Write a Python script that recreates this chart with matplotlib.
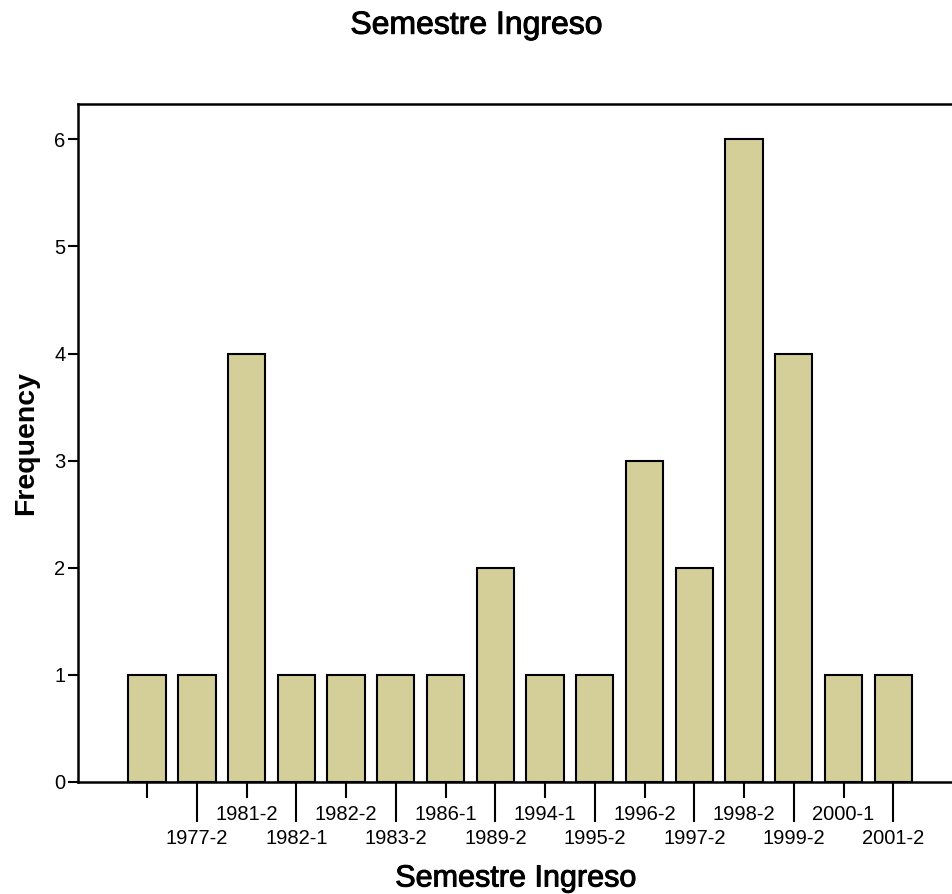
import matplotlib.pyplot as plt
import matplotlib.patheffects as pe
import numpy as np

plt.rcParams["font.family"] = ["Liberation Sans", "DejaVu Sans"]

# Semester of entry and how many records fall in each
CATEGORIES = ["", "1977-2", "1981-2", "1982-1", "1982-2", "1983-2", "1986-1",
              "1989-2", "1994-1", "1995-2", "1996-2", "1997-2", "1998-2",
              "1999-2", "2000-1", "2001-2"]
FREQUENCY = [1, 1, 4, 1, 1, 1, 1, 2, 1, 1, 3, 2, 6, 4, 1, 1]
Y_TICKS = [0, 1, 2, 3, 4, 5, 6]

BAR_COLOR = "#d4cf98"

fig = plt.figure(figsize=(9.53, 8.94), dpi=100)
ax = fig.add_axes([0.0818, 0.1253, 0.9182, 0.7584])

x = np.arange(len(CATEGORIES))
ax.bar(x, FREQUENCY, width=0.75, color=BAR_COLOR, edgecolor="black",
       linewidth=1.5, zorder=3)

ax.set_xlim(-1.39, 16.2)
ax.set_ylim(0, 6.33)

# staggered category labels: even ones on short ticks, odd ones on long ticks
ax.set_xticks(x[::2])
ax.set_xticklabels(CATEGORIES[::2])
ax.set_xticks(x[1::2], minor=True)
ax.tick_params(axis="x", which="major", length=11.5, width=1.5, pad=5, labelsize=14.5)
ax.set_xticklabels(CATEGORIES[1::2], minor=True)
ax.tick_params(axis="x", which="minor", length=29, width=1.5, pad=5, labelsize=14.5)

ax.set_yticks(Y_TICKS)
ax.tick_params(axis="y", length=7, width=1.5, pad=2, labelsize=14.5)

for side in ("left", "bottom", "top"):
    ax.spines[side].set_linewidth(1.8)
ax.spines["right"].set_visible(False)

# slightly heavier than regular, like the original
thick = [pe.withStroke(linewidth=0.7, foreground="black")]
ax.set_ylabel("Frequency", fontsize=20.5, fontweight="bold", labelpad=11)
ax.set_xlabel("Semestre Ingreso", fontsize=22, labelpad=11, path_effects=thick)
fig.suptitle("Semestre Ingreso", fontsize=23, y=0.988, path_effects=thick)

fig.savefig("out.png", dpi=100)
